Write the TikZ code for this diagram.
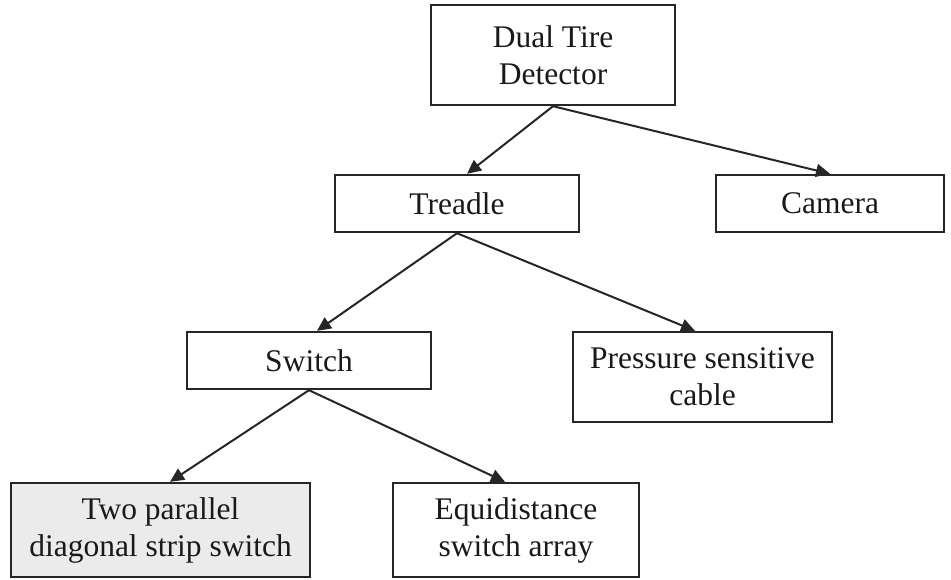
\documentclass[tikz,border=0pt]{standalone}
\usepackage{fontspec}
\setmainfont{Liberation Serif}
\usetikzlibrary{arrows.meta}

\begin{document}
\begin{tikzpicture}[
  box/.style={rectangle, draw=black!85, line width=1.2pt, inner sep=0pt, align=center, text=black!90, font=\fontsize{15.75}{18.5}\selectfont},
  >={Triangle[length=7pt,width=6.5pt]},
  line width=1pt, draw=black!85
]
\useasboundingbox (-276.5pt,27.5pt) rectangle (199pt,-262pt);
\node[box, minimum width=122pt, minimum height=50pt] (dtd) {Dual Tire\\Detector};
\node[box, below of=dtd, node distance=74.25pt, xshift=-48pt, minimum width=122pt, minimum height=28.5pt] (treadle) {Treadle};
\node[box, right of=treadle, node distance=186.5pt, minimum width=114pt, minimum height=28.5pt] (camera) {Camera};
\node[box, below of=treadle, node distance=78.5pt, xshift=-74pt, minimum width=122pt, minimum height=28.5pt] (switch) {Switch};
\node[box, right of=switch, node distance=196.75pt, yshift=-8.25pt, minimum width=129.5pt, minimum height=45pt] (cable) {Pressure sensitive\\cable};
\node[box, below of=switch, node distance=84.75pt, xshift=-74.25pt, minimum width=149.5pt, minimum height=47pt, fill=black!8] (strip) {Two parallel\\diagonal strip switch};
\node[box, right of=strip, node distance=177.75pt, minimum width=123pt, minimum height=47pt] (array) {Equidistance\\switch array};

\draw[->] (dtd.south) -- ([xshift=5pt]treadle.north);
\draw[->] (dtd.south) -- (camera.north);
\draw[->] (treadle.south) -- ([xshift=4pt]switch.north);
\draw[->] (treadle.south) -- ([xshift=-3.75pt]cable.north);
\draw[->] (switch.south) -- ([xshift=4.75pt]strip.north);
\draw[->] (switch.south) -- ([xshift=-5.5pt]array.north);
\end{tikzpicture}
\end{document}
